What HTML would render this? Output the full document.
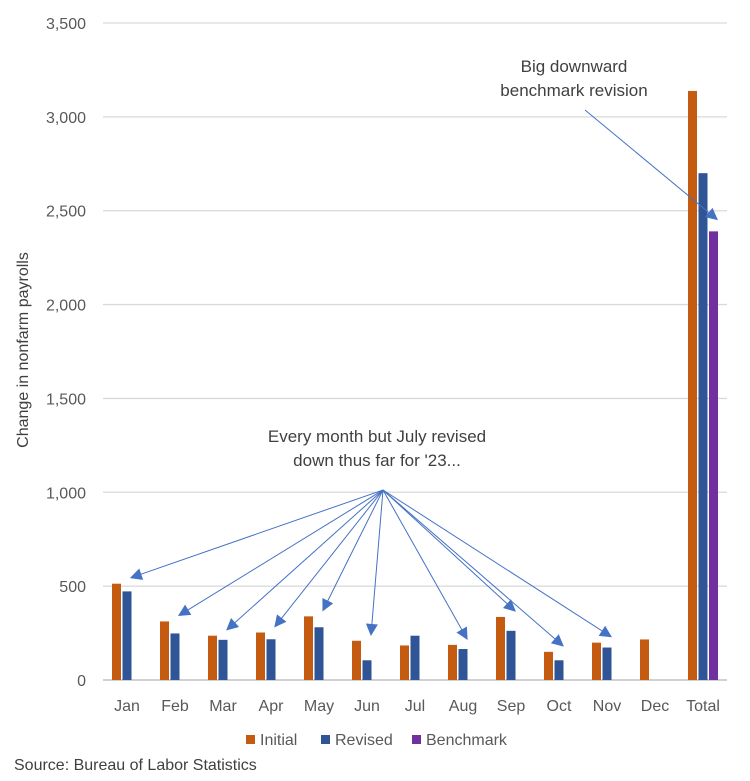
<!DOCTYPE html>
<html><head><meta charset="utf-8"><style>
body{margin:0;background:#fff;font-family:"Liberation Sans",sans-serif}
</style></head><body>
<svg id="c" width="750" height="781" style="display:block">
<defs><marker id="ah" viewBox="0 0 10 10" refX="9" refY="5" markerWidth="15" markerHeight="12" markerUnits="userSpaceOnUse" orient="auto"><path d="M0,0L10,5L0,10z" fill="#4472c4"/></marker></defs>
</svg>
<script>
const categories=["Jan","Feb","Mar","Apr","May","Jun","Jul","Aug","Sep","Oct","Nov","Dec","Total"];
const initial=[513,312,236,253,339,209,184,187,336,150,199,216,3138];
const revised=[472,248,214,217,281,105,236,165,262,105,173,null,2700];
const benchmark=[null,null,null,null,null,null,null,null,null,null,null,null,2390];
const yTicks=[0,500,1000,1500,2000,2500,3000,3500];
const yTickLabels=["0","500","1,000","1,500","2,000","2,500","3,000","3,500"];
const svg=document.getElementById('c');const NS='http://www.w3.org/2000/svg';
const L=103,R=727,T=23,B=680,ymax=3500;
const y=v=>B-(v/ymax)*(B-T);
const cw=(R-L)/categories.length;
const cx=i=>L+cw*(i+0.5);
function mk(t,a){const e=document.createElementNS(NS,t);for(const k in a)e.setAttribute(k,a[k]);svg.appendChild(e);return e;}
yTicks.forEach((t,i)=>{
 const g=mk('line',{x1:L,x2:R,y1:y(t),y2:y(t),stroke:t===0?'#d0d0d0':'#d9d9d9','stroke-width':t===0?2:1.3});
 
 
 const tx=mk('text',{x:86,y:y(t)+6,'text-anchor':'end','font-size':16,fill:'#595959'});tx.textContent=yTickLabels[i];
 
 
});
const series=[[initial,'#c55a11','bar-initial'],[revised,'#2f5597','bar-revised'],[benchmark,'#7030a0','bar-benchmark']];
const slot=10.5,bw=9;
series.forEach(([arr,col,nm],s)=>{
 arr.forEach((v,i)=>{if(v==null)return;
  const x=cx(i)+(s-1)*slot-bw/2;
  const r=mk('rect',{x:x,y:y(v),width:bw,height:B-y(v),fill:col});
  
  
 });
});
categories.forEach((c,i)=>{const t=mk('text',{x:cx(i),y:711,'text-anchor':'middle','font-size':16,fill:'#595959'});t.textContent=c;
 
 });
const yt=mk('text',{x:28,y:350,'text-anchor':'middle','font-size':16,fill:'#404040',transform:'rotate(-90 28 350)'});yt.textContent='Change in nonfarm payrolls';


const arrowTargets=[0,1,2,3,4,5,7,8,9,10];
arrowTargets.forEach(i=>{
 const tx=cx(i)+4, ty=y(Math.max(initial[i],revised[i]))-6;
 const a=mk('line',{x1:383,y1:490,x2:tx,y2:ty,stroke:'#4472c4','stroke-width':1,'marker-end':'url(#ah)'});
 
 
});
const ba=mk('line',{x1:585,y1:110,x2:cx(12)+14,y2:y(benchmark[12])-12,stroke:'#4472c4','stroke-width':1,'marker-end':'url(#ah)'});


function txt(s,x,yy,nm,anchor,size,fill){const t=mk('text',{x:x,y:yy,'text-anchor':anchor||'middle','font-size':size||17,fill:fill||'#404040'});t.textContent=s;return t;}
txt('Every month but July revised',377,442,'annotation-months');
txt("down thus far for '23...",377,466,'annotation-months-2');
txt('Big downward',574,72,'annotation-benchmark');
txt('benchmark revision',574,96,'annotation-benchmark-2');
const leg=[['Initial','#c55a11',246],['Revised','#2f5597',321],['Benchmark','#7030a0',412]];
leg.forEach(([n,c,x])=>{const r=mk('rect',{x:x,y:735,width:9,height:9,fill:c});
 txt(n,x+14,745,'legend-entry','start',16,'#595959');});
txt('Source: Bureau of Labor Statistics',14,770,'source-note','start',16,'#404040');
</script></body></html>
